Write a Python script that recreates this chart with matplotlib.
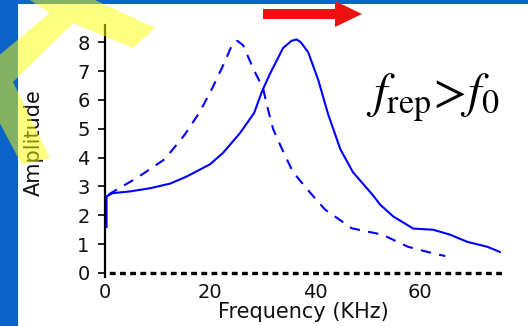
import matplotlib
matplotlib.use("Agg")
import matplotlib.pyplot as plt
from matplotlib.patches import Polygon, Rectangle

# ---- data ----
solid_x = [0.3, 0.3, 1.5, 4.8, 8.6, 12.4, 15.6, 20.0, 22.5, 25.7, 28.4, 29.9, 31.4,
           33.9, 35.5, 36.5, 37.3, 38.7, 40.6, 42.5, 44.8, 47.2, 51.0, 52.4, 54.9,
           58.7, 62.5, 65.7, 69.0, 72.8, 75.2]
solid_y = [1.6, 2.66, 2.77, 2.83, 2.94, 3.1, 3.35, 3.77, 4.17, 4.85, 5.55, 6.3, 6.9,
           7.8, 8.05, 8.1, 8.0, 7.65, 6.7, 5.5, 4.3, 3.5, 2.7, 2.37, 1.96,
           1.54, 1.5, 1.33, 1.08, 0.91, 0.73]

dashed_x = [0.6, 1.0, 6.1, 11.4, 15.2, 18.1, 20.4, 22.5, 24.3, 25.2, 26.3, 28.2,
            30.1, 31.0, 32.0, 33.7, 35.8, 39.0, 41.9, 47.0, 52.8, 57.7, 62.9, 64.8]
dashed_y = [2.7, 2.76, 3.3, 3.95, 4.8, 5.6, 6.4, 7.2, 7.95, 8.05, 7.9, 7.1,
            6.4, 5.7, 5.0, 4.3, 3.5, 2.8, 2.2, 1.55, 1.33, 0.91, 0.66, 0.59]

x_ticks = [0, 20, 40, 60]
y_ticks = [0, 1, 2, 3, 4, 5, 6, 7, 8]
x_label = "Frequency (KHz)"
y_label = "Amplitude"
annotation = r"$f_{\mathrm{rep}}\!>\!f_0$"

W, H = 528, 326
fig = plt.figure(figsize=(W / 100, H / 100), dpi=100)
fig.patch.set_facecolor("white")


def px(pts):
    return [(x / W, 1 - y / H) for x, y in pts]


# slide decoration: blue frame strips
blue = "#0a64c8"
fig.patches.append(Rectangle((0, 0), 18 / W, 1, transform=fig.transFigure,
                             facecolor=blue, edgecolor="none", zorder=0))
fig.patches.append(Rectangle((0, 1 - 4 / H), 1, 4 / H, transform=fig.transFigure,
                             facecolor=blue, edgecolor="none", zorder=0))

# axes
ax = fig.add_axes([105 / W, 53 / H, 397 / W, 248 / H])
ax.set_facecolor("none")
ax.set_xlim(0, 75.6)
ax.set_ylim(0, 8.6)

ax.plot(solid_x, solid_y, color="#0000ff", lw=1.5, solid_joinstyle="round")
ax.plot(dashed_x, dashed_y, color="#0000ff", lw=1.5, dashes=(5, 4))

for s in ["top", "right"]:
    ax.spines[s].set_visible(False)
ax.spines["left"].set_linewidth(1.6)
ax.spines["left"].set_color("black")
ax.spines["left"].set_bounds(-0.15, 8.6)
ax.spines["bottom"].set_linewidth(2.4)
ax.spines["bottom"].set_linestyle((0, (0.75, 2.3)))
ax.spines["bottom"].set_bounds(1.2, 75.6)
ax.spines["bottom"].set_color("black")

ax.set_xticks(x_ticks)
ax.set_yticks(y_ticks)
ax.tick_params(axis="x", length=0, pad=7, labelsize=14, labelcolor="#111111")
ax.tick_params(axis="y", length=5, width=1.2, direction="out", pad=6,
               labelsize=14, labelcolor="#111111")

ax.set_xlabel(x_label, fontsize=15, color="#111111")
ax.xaxis.label.set_va("center")
ax.xaxis.set_label_coords(0.5, (273 - 312) / 248)
ax.set_ylabel(y_label, fontsize=15, color="#111111")
ax.yaxis.label.set_va("center")
ax.yaxis.set_label_coords((34 - 105) / 397, (273 - 143) / 248)

plt.rcParams["mathtext.fontset"] = "stix"
fig.text(366 / W, 1 - 107 / H, annotation, fontsize=35, ha="left",
         va="baseline", color="black")

# yellow translucent chevron decoration
yellow_pts = [(30, 0), (95, 0), (155, 28), (133, 48), (73, 23), (13, 82),
              (50, 158), (22, 165), (-15, 95), (-15, 67), (50, 13)]
fig.patches.append(Polygon(px(yellow_pts), closed=True, transform=fig.transFigure,
                           facecolor="#ffff00", alpha=0.5, edgecolor="none",
                           zorder=5))

# red arrow
arrow_pts = [(263, 9), (335, 9), (335, 1), (362, 14), (335, 27), (335, 19), (263, 19)]
fig.patches.append(Polygon(px(arrow_pts), closed=True, transform=fig.transFigure,
                           facecolor="#ee1111", edgecolor="none", zorder=6))

fig.savefig("out.png", dpi=100)
